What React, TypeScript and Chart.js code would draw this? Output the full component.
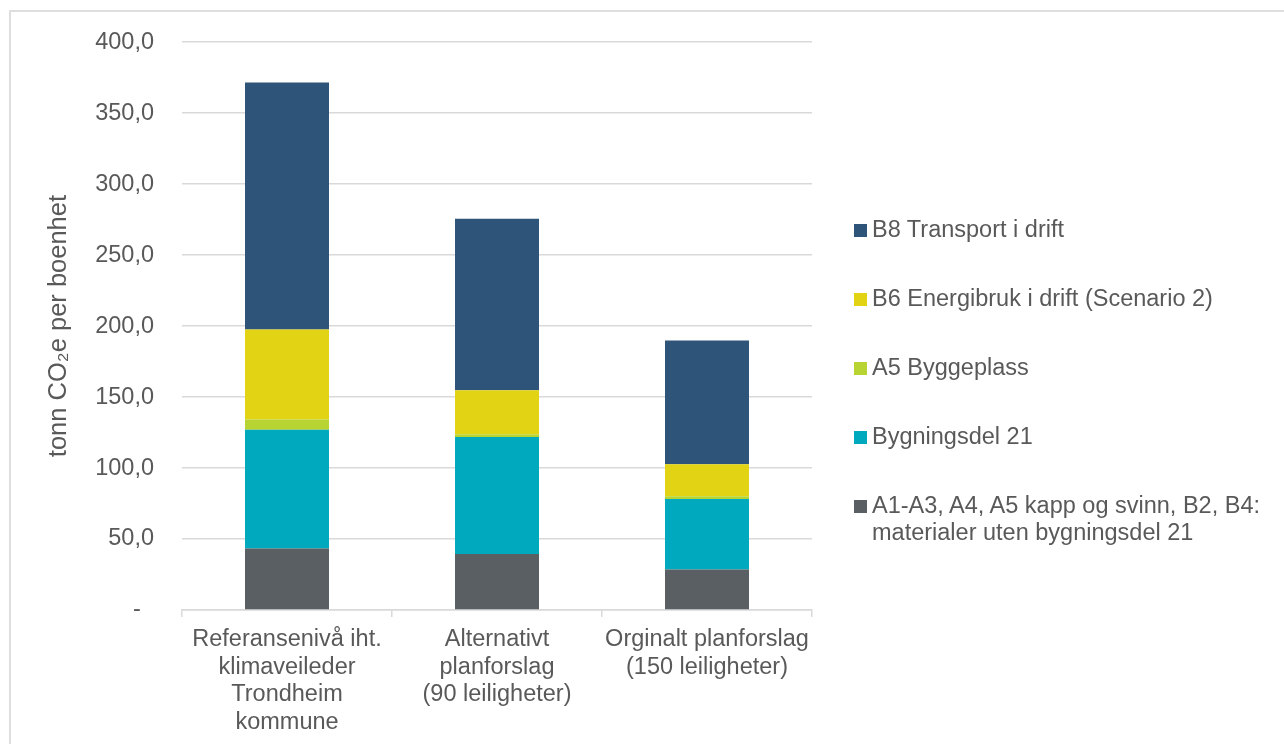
import React, { useEffect, useRef } from "react";
import { Chart, registerables } from "chart.js";

Chart.register(...registerables);

const categories: string[][] = [
  ["Referansenivå iht.", "klimaveileder", "Trondheim", "kommune"],
  ["Alternativt", "planforslag", "(90 leiligheter)"],
  ["Orginalt planforslag", "(150 leiligheter)"],
];

const seriesNames = [
  "A1-A3, A4, A5 kapp og svinn, B2, B4: materialer uten bygningsdel 21",
  "Bygningsdel 21",
  "A5 Byggeplass",
  "B6 Energibruk i drift (Scenario 2)",
  "B8 Transport i drift",
];

const materialer = [43.4, 39.4, 28.5];
const bygningsdel21 = [83.6, 82.4, 49.7];
const byggeplass = [7.1, 2.0, 1.9];
const energibruk = [63.4, 30.9, 22.5];
const transport = [174.1, 120.9, 87.3];

const seriesColors = ["#5A5F63", "#00A9BE", "#B7D433", "#E3D315", "#2E5579"];

const legendLines: string[][] = [
  ["B8 Transport i drift"],
  ["B6 Energibruk i drift (Scenario 2)"],
  ["A5 Byggeplass"],
  ["Bygningsdel 21"],
  ["A1-A3, A4, A5 kapp og svinn, B2, B4:", "materialer uten bygningsdel 21"],
];
const legendColors = ["#2E5579", "#E3D315", "#B7D433", "#00A9BE", "#5A5F63"];

const FONT = "'Liberation Sans', Arial, Helvetica, sans-serif";
const TEXT = "#595959";
const GRID = "#d9d9d9";

export default function App() {
  const ref = useRef<HTMLCanvasElement | null>(null);

  useEffect(() => {
    if (!ref.current) return;
    const values = [materialer, bygningsdel21, byggeplass, energibruk, transport];
    const chart = new Chart(ref.current, {
      type: "bar",
      data: {
        labels: categories,
        datasets: values.map((v, i) => ({
          label: seriesNames[i],
          data: v,
          backgroundColor: seriesColors[i],
          borderWidth: 0,
          barPercentage: 0.4,
          categoryPercentage: 1,
        })),
      },
      options: {
        animation: false,
        responsive: false,
        maintainAspectRatio: false,
        layout: { padding: { top: 41, right: 472, left: 0, bottom: 0 } },
        plugins: {
          legend: { display: false },
          tooltip: { enabled: false },
        },
        scales: {
          x: {
            stacked: true,
            grid: {
              offset: true,
              drawOnChartArea: false,
              drawTicks: true,
              tickLength: 7,
              color: GRID,
              lineWidth: 1.5,
            },
            border: { display: true, color: GRID, width: 1.5 },
            ticks: {
              color: TEXT,
              padding: 9,
              maxRotation: 0,
              autoSkip: false,
              font: { family: FONT, size: 23.5, lineHeight: 1.17 },
            },
            afterFit: (s: any) => {
              s.height = 134;
            },
          },
          y: {
            stacked: true,
            min: 0,
            max: 400,
            border: { display: false },
            grid: { color: GRID, lineWidth: 1.5, drawTicks: false },
            ticks: {
              stepSize: 50,
              color: TEXT,
              padding: 28,
              font: { family: FONT, size: 23.5 },
              callback: (v: any) =>
                Number(v) === 0 ? "-  " : Number(v).toFixed(1).replace(".", ","),
            },
            title: {
              display: true,
              text: "tonn CO₂e per boenhet",
              color: TEXT,
              padding: { top: 44, bottom: 0 },
              font: { family: FONT, size: 25.5, lineHeight: 1.2 },
            },
            afterFit: (s: any) => {
              s.width = 182;
            },
          },
        },
      },
    });
    return () => chart.destroy();
  }, []);

  const tops = [216, 285, 354, 423, 492];

  return (
    <div
      style={{
        position: "fixed",
        left: 0,
        top: 0,
        width: 1284,
        height: 744,
        overflow: "hidden",
        background: "#ffffff",
      }}
    >
      <div
        style={{
          position: "absolute",
          left: 9,
          top: 10,
          width: 1400,
          height: 900,
          border: "2px solid #dedede",
          boxSizing: "border-box",
        }}
      />
      <canvas
        ref={ref}
        width={1284}
        height={744}
        style={{ position: "absolute", left: 0, top: 0, width: 1284, height: 744 }}
      />
      {legendLines.map((lines, i) => (
        <div
          key={i}
          style={{
            position: "absolute",
            left: 854,
            top: tops[i],
            fontFamily: FONT,
            fontSize: 23.5,
            lineHeight: "27px",
            color: TEXT,
            whiteSpace: "nowrap",
          }}
        >
          <span
            style={{
              position: "absolute",
              left: 0,
              top: 8,
              width: 13,
              height: 13,
              background: legendColors[i],
            }}
          />
          <div style={{ marginLeft: 18 }}>
            {lines.map((l, j) => (
              <div key={j}>{l}</div>
            ))}
          </div>
        </div>
      ))}
    </div>
  );
}
